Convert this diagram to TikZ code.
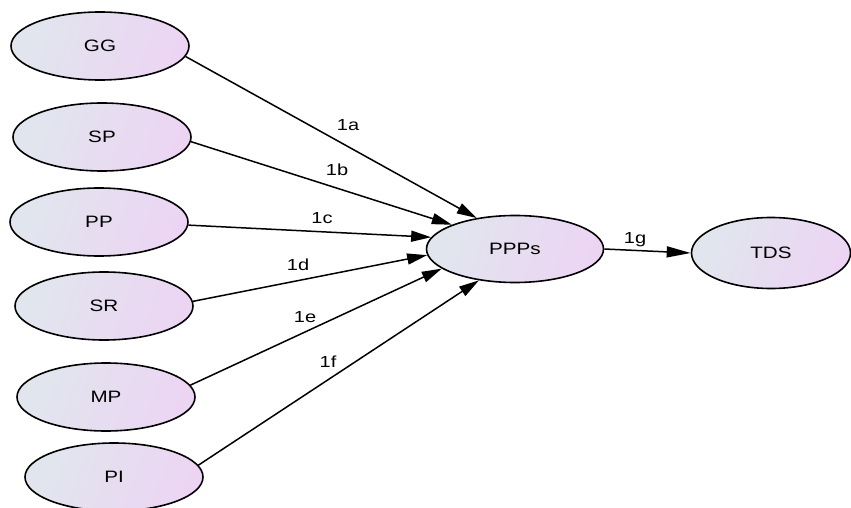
\documentclass[tikz,border=0pt]{standalone}
\usepackage{fontspec}
\setmainfont{Liberation Sans}
\usepackage{graphicx}
\usetikzlibrary{shapes.geometric,arrows.meta}
\newcommand{\wide}[1]{\scalebox{1.25}[1]{#1}}
\definecolor{gleft}{RGB}{225,230,238}
\definecolor{gright}{RGB}{236,213,243}
\tikzset{
  ell/.style={ellipse, draw=black, line width=1.6pt, inner sep=0pt,
    minimum width=178pt, minimum height=68pt,
    left color=gleft, right color=gright, shading angle=70,
    font=\fontsize{16.5}{18}\selectfont},
  conn/.style={line width=1.5pt, -{Triangle[length=20pt,width=11pt]}},
  elab/.style={font=\fontsize{16}{18}\selectfont, inner sep=0pt}
}
\begin{document}
\begin{tikzpicture}[x=1pt,y=-1pt]
\useasboundingbox (0,0) rectangle (851,508);
\node[ell] (GG) at (100,46) {\wide{GG}};
\node[ell] (SP) at (102,137) {\wide{SP}};
\node[ell] (PP) at (99,222) {\wide{PP}};
\node[ell] (SR) at (104,306) {\wide{SR}};
\node[ell] (MP) at (106,397) {\wide{MP}};
\node[ell] (PI) at (114,477) {\wide{PI}};
\node[ell, minimum width=177pt, minimum height=67pt] (PPPs) at (515,249) {\wide{PPPs}};
\node[ell, minimum width=159pt, minimum height=71pt] (TDS) at (771,253) {\wide{TDS}};
\draw[conn] (GG.-7) -- (PPPs.141);
\draw[conn] (SP.-3) -- (PPPs.159);
\draw[conn] (PP.-2) -- (PPPs.172);
\draw[conn] (SR.3) -- (PPPs.184);
\draw[conn] (MP.8) -- (PPPs.195);
\draw[conn] (PI.8) -- (PPPs.221);
\draw[line width=1.5pt, -{Triangle[length=24pt,width=11pt]}] (PPPs.east) -- (TDS.west);
\node[elab] (la) at (348,125) {\wide{1a}};
\node[elab] (lb) at (337,170) {\wide{1b}};
\node[elab] (lc) at (322,218) {\wide{1c}};
\node[elab] (ld) at (298,265) {\wide{1d}};
\node[elab] (le) at (305,317) {\wide{1e}};
\node[elab] (lf) at (328,362) {\wide{1f}};
\node[elab] (lg) at (635,240) {\wide{1g}};
\end{tikzpicture}
\end{document}
